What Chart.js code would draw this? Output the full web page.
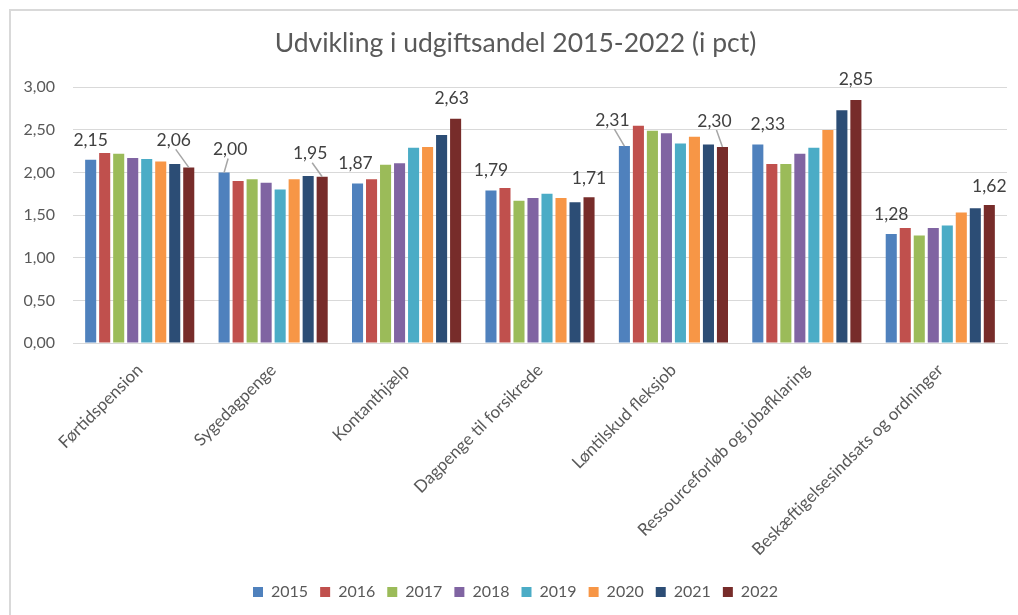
<!DOCTYPE html>
<html>
<head>
<meta charset="utf-8">
<script src="https://cdn.jsdelivr.net/npm/chart.js@4/dist/chart.umd.min.js"></script>
<style>
  html, body { margin: 0; padding: 0; background: #fff; overflow: hidden; }
  #wrap { position: relative; width: 1018px; height: 615px; }
  #frame { position: absolute; left: 9px; top: 9px; width: 1100px; height: 700px;
           border: 2px solid #D9D9D9; pointer-events: none; }
</style>
</head>
<body>
<div id="wrap">
  <canvas id="chart" width="1018" height="615"></canvas>
  <div id="frame"></div>
</div>
<script>
// categories on the x axis
const categories = [
  "Førtidspension",
  "Sygedagpenge",
  "Kontanthjælp",
  "Dagpenge til forsikrede",
  "Løntilskud fleksjob",
  "Ressourceforløb og jobafklaring",
  "Beskæftigelsesindsats og ordninger"
];

const years = ["2015", "2016", "2017", "2018", "2019", "2020", "2021", "2022"];

// udgiftsandel (pct) per year, one value per category
const v2015 = [2.15, 2.00, 1.87, 1.79, 2.31, 2.33, 1.28];
const v2016 = [2.23, 1.90, 1.92, 1.82, 2.55, 2.10, 1.35];
const v2017 = [2.22, 1.92, 2.09, 1.67, 2.49, 2.10, 1.26];
const v2018 = [2.17, 1.88, 2.11, 1.70, 2.46, 2.22, 1.35];
const v2019 = [2.16, 1.80, 2.29, 1.75, 2.34, 2.29, 1.38];
const v2020 = [2.13, 1.92, 2.30, 1.70, 2.42, 2.50, 1.53];
const v2021 = [2.10, 1.96, 2.44, 1.65, 2.33, 2.73, 1.58];
const v2022 = [2.06, 1.95, 2.63, 1.71, 2.30, 2.85, 1.62];

const yTickLabels = ["0,00", "0,50", "1,00", "1,50", "2,00", "2,50", "3,00"];

const colors = ["#4F81BD", "#C0504D", "#9BBB59", "#8064A2", "#4BACC6", "#F79646", "#2C4D75", "#772C2A"];

// label nudges (dx, dy from bar top) for the 2015 and 2022 labels, plus leader line flag
const firstLabelPos = [[0, -19, 0], [6, -23, 1], [-2, -20, 0], [0, -20, 0], [-12, -26, 1], [10, -20, 0], [0, -20, 0]];
const lastLabelPos  = [[-15, -27, 1], [-12, -23, 1], [-4, -20, 0], [0, -19, 0], [-8, -26, 1], [0, -21, 0], [0, -19, 0]];

const FONT = "Lato, 'Open Sans', sans-serif";
const fmt = (v) => v.toFixed(2).replace(".", ",");

// draws the 2015 and 2022 value labels
const valueLabels = {
  id: "valueLabels",
  afterDatasetsDraw(chart) {
    const ctx = chart.ctx;
    ctx.save();
    ctx.font = "17.5px " + FONT;
    ctx.textAlign = "center";
    ctx.textBaseline = "middle";
    [[0, firstLabelPos], [7, lastLabelPos]].forEach(([ds, pos]) => {
      const meta = chart.getDatasetMeta(ds);
      meta.data.forEach((bar, i) => {
        const [dx, dy, leader] = pos[i];
        const lx = bar.x + dx;
        const ly = bar.y + dy;
        if (leader) {
          ctx.strokeStyle = "#A6A6A6";
          ctx.lineWidth = 1.5;
          ctx.beginPath();
          ctx.moveTo(lx + (dx < 0 ? 2 : -2), ly + 9);
          ctx.lineTo(bar.x, bar.y);
          ctx.stroke();
        }
        ctx.fillStyle = "#404040";
        ctx.fillText(fmt(chart.data.datasets[ds].data[i]), lx, ly);
      });
    });
    ctx.restore();
  }
};

const seriesValues = [v2015, v2016, v2017, v2018, v2019, v2020, v2021, v2022];

new Chart(document.getElementById("chart"), {
  type: "bar",
  data: {
    labels: categories,
    datasets: years.map((y, i) => ({
      label: y,
      data: seriesValues[i],
      backgroundColor: colors[i],
      borderWidth: 0,
      categoryPercentage: 0.84,
      barPercentage: 0.79
    }))
  },
  options: {
    responsive: false,
    animation: false,
    events: [],
    layout: { padding: { left: 24, right: 11, top: 0, bottom: 5 } },
    plugins: {
      title: {
        display: true,
        text: "Udvikling i udgiftsandel 2015-2022 (i pct)",
        color: "#595959",
        font: { family: FONT, size: 26.5, weight: "normal" },
        padding: { top: 28, bottom: 27.5 }
      },
      legend: {
        position: "bottom",
        labels: {
          color: "#595959",
          font: { family: FONT, size: 16 },
          boxWidth: 10,
          boxHeight: 10,
          padding: 12
        }
      },
      tooltip: { enabled: false }
    },
    scales: {
      x: {
        grid: { display: false },
        border: { color: "#D9D9D9", width: 1 },
        ticks: {
          color: "#595959",
          font: { family: FONT, size: 17 },
          maxRotation: 45,
          minRotation: 45,
          padding: 9
        },
        afterFit(scale) { scale.height = 229; }
      },
      y: {
        min: 0,
        max: 3,
        border: { display: false },
        grid: { color: "#D9D9D9", lineWidth: 1, drawTicks: false },
        ticks: {
          stepSize: 0.5,
          color: "#595959",
          font: { family: FONT, size: 16 },
          padding: 18,
          callback: (v, i) => yTickLabels[i]
        },
        afterFit(scale) { scale.width = 49; }
      }
    }
  },
  plugins: [valueLabels]
});
</script>
</body>
</html>
